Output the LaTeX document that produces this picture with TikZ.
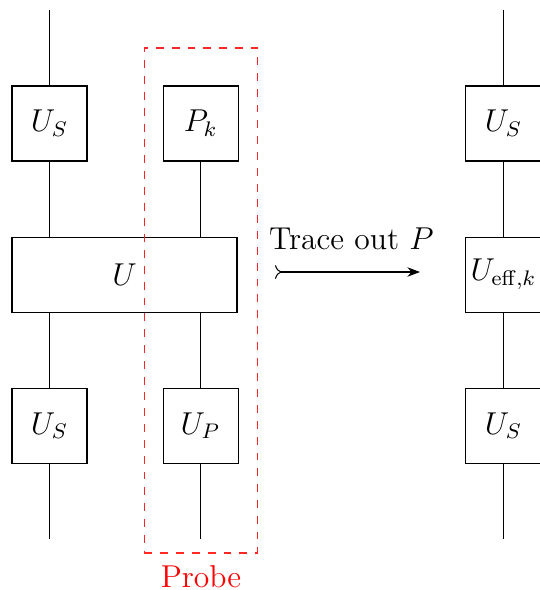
\documentclass[tikz,border=0pt]{standalone}
\usepackage{amssymb}
\usepackage{tikz}
\usetikzlibrary{positioning,calc,arrows.meta}

\begin{document}
\begin{tikzpicture}[
                every node/.style={font=\large},
                gatebox/.style={draw, minimum size=1cm, inner sep=1pt},
                widebox/.style={draw, minimum width=3cm, minimum height=1cm},
                probeframe/.style={draw=red!85, dashed, minimum width=1.507cm, minimum height=6.733cm},
                node distance=1cm,
            ]
            \useasboundingbox (0,0) rectangle (7.187,7.867);
            %Nodes
            \node[gatebox]       (stop)       at (0.66,6.22)                      {$U_S$};
            \node[gatebox]       (probe)      [right=of stop]                     {$P_k$};
            \node[widebox]       (coupling)   [below=of stop.south west, anchor=north west] {$U$};
            \node[gatebox]       (sbottom)    [below=of coupling.south west, anchor=north west] {$U_S$};
            \node[gatebox]       (up)         [right=of sbottom]                  {$U_P$};
            \node[gatebox]       (rtop)       at (6.713,6.22)                     {$U_S$};
            \node[gatebox]       (reff)       [below=of rtop]                     {$U_{\mathrm{eff},k}$};
            \node[gatebox]       (rbottom)    [below=of reff]                     {$U_S$};
            \node[probeframe]    (frame)      at (2.68,3.86)                      {};
            \node[text=red]      (probelabel) [below=1pt of frame]                {Probe};

            %Ends
            \coordinate[above=of stop]    (ltop);
            \coordinate[below=of sbottom] (lbot);
            \coordinate[below=of up]      (pbot);
            \coordinate[above=of rtop]    (rtopend);
            \coordinate[below=of rbottom] (rbotend);
            \coordinate (arrowstart) at (3.667,4.24);
            \coordinate (arrowend)   at (5.6,4.24);

            %Lines
            \draw (ltop) -- (stop.north);
            \draw (stop.south) -- (stop.south |- coupling.north);
            \draw (sbottom.north |- coupling.south) -- (sbottom.north);
            \draw (sbottom.south) -- (lbot);
            \draw (probe.south) -- (probe.south |- coupling.north);
            \draw (up.north |- coupling.south) -- (up.north);
            \draw (up.south) -- (pbot);
            \draw (rtopend) -- (rtop.north);
            \draw (rtop.south) -- (reff.north);
            \draw (reff.south) -- (rbottom.north);
            \draw (rbottom.south) -- (rbotend);
            \draw[{To[reversed]}-{Stealth}] (arrowstart) -- node[above=5pt, xshift=1.5pt] {Trace out $P$} (arrowend);
        \end{tikzpicture}
\end{document}
